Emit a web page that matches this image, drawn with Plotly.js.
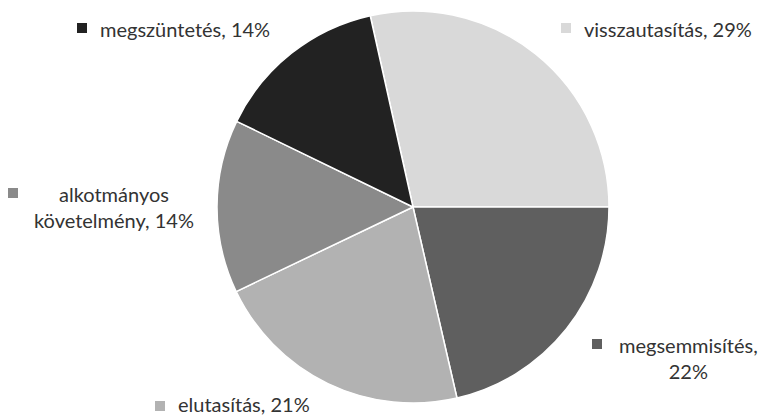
<!DOCTYPE html>
<html>
<head>
<meta charset="utf-8">
<script src="https://cdn.plot.ly/plotly-3.0.1.min.js"></script>
<style>html,body{margin:0;padding:0;background:#fff;}#chart{width:758px;height:416px;}</style>
</head>
<body>
<div id="chart"></div>
<script>
// Data (clockwise order, starting just left of 12 o'clock)
const categories = ["visszautasítás", "megsemmisítés", "elutasítás", "alkotmányos követelmény", "megszüntetés"];
const values = [28.5, 21.4, 21.5, 14.3, 14.3];
const percentLabels = ["29%", "22%", "21%", "14%", "14%"];
const colors = ["#d9d9d9", "#5f5f5f", "#b2b2b2", "#8a8a8a", "#222222"];

const W = 758, H = 416;
const px = x => x / W;
const py = y => 1 - y / H;

// label layout (pixels)
const labelLayout = [
  {lines: [categories[0] + ", " + percentLabels[0]], kx: 561, ky: 23, tx: 583, ty: 29, anchor: "left"},
  {lines: [categories[1] + ",", percentLabels[1]], kx: 592, ky: 339, tx: 688, ty: 358, anchor: "center"},
  {lines: [categories[2] + ", " + percentLabels[2]], kx: 155, ky: 401, tx: 177, ty: 404, anchor: "left"},
  {lines: ["alkotmányos", "követelmény, " + percentLabels[3]], kx: 8, ky: 188, tx: 114, ty: 207, anchor: "center"},
  {lines: [categories[4] + ", " + percentLabels[4]], kx: 77, ky: 23, tx: 99, ty: 29, anchor: "left"}
];

const font = {family: "Lato, 'Open Sans', sans-serif", size: 20, color: "#333333"};

const annotations = labelLayout.map(l => ({
  xref: "paper", yref: "paper",
  x: px(l.tx), y: py(l.ty),
  xanchor: l.anchor, yanchor: "middle",
  align: "center",
  text: l.lines.join("<br>"),
  showarrow: false,
  borderpad: 0,
  font: font
}));

const shapes = labelLayout.map((l, i) => ({
  type: "rect", xref: "paper", yref: "paper",
  x0: px(l.kx), x1: px(l.kx + 10),
  y0: py(l.ky), y1: py(l.ky + 10),
  fillcolor: colors[i], line: {width: 0}
}));

const cx = 413, cy = 207, r = 196;
const trace = {
  type: "pie",
  labels: categories,
  values: values,
  sort: false,
  direction: "clockwise",
  rotation: -12.6,
  marker: {colors: colors, line: {color: "#ffffff", width: 1.5}},
  textinfo: "none",
  hoverinfo: "label+percent",
  showlegend: false,
  domain: {x: [px(cx - r), px(cx + r)], y: [py(cy + r), py(cy - r)]}
};

const layout = {
  width: W, height: H,
  margin: {l: 0, r: 0, t: 0, b: 0},
  paper_bgcolor: "#ffffff",
  showlegend: false,
  annotations: annotations,
  shapes: shapes
};

Plotly.newPlot("chart", [trace], layout, {displayModeBar: false, staticPlot: true});
</script>
</body>
</html>
